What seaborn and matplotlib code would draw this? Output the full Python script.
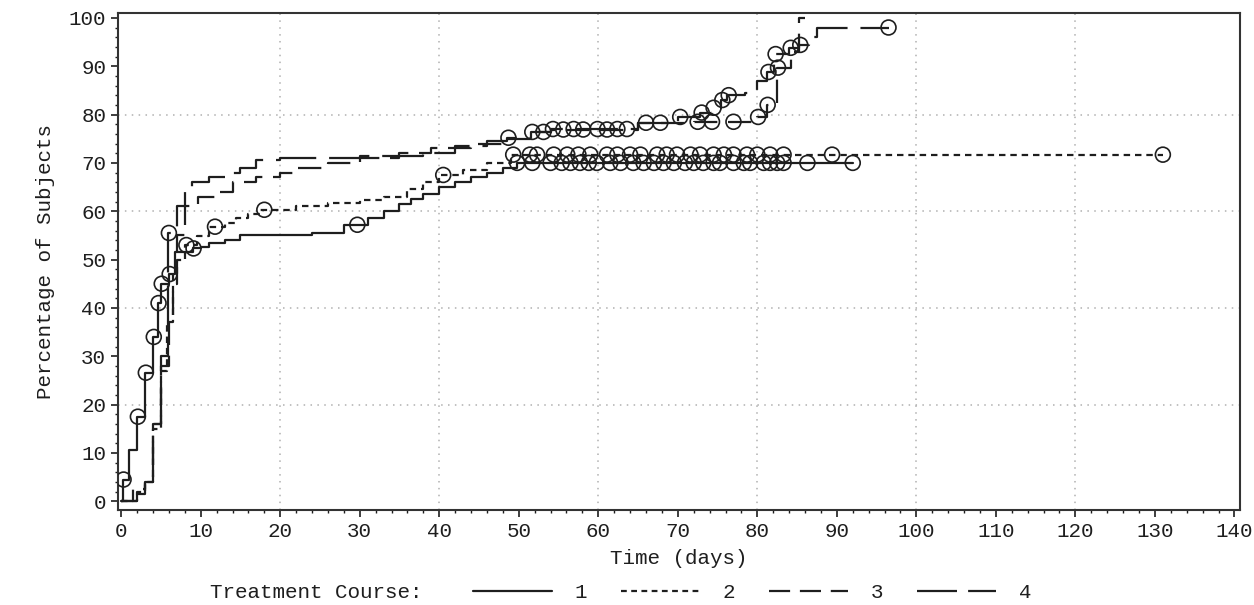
"""
Cumulative percentage of subjects over time, by treatment course.

Step curves with open circles marking censored observations.
"""

import numpy as np
import pandas as pd
import matplotlib
matplotlib.use("Agg")
import matplotlib.pyplot as plt
from matplotlib.lines import Line2D
from matplotlib.ticker import MultipleLocator
import seaborn as sns

# Course 1 (solid)
t1 = [0, 0.2, 1, 2, 3, 4, 4.6, 5, 6, 6.8, 9, 10, 11, 13, 15, 24, 28, 31, 33, 35,
      36.5, 38, 40, 42, 44, 46, 48, 49.8, 92]
y1 = [0, 4.5, 10.7, 17.5, 26.6, 34, 41, 45, 47, 51.6, 52.3, 52.7, 53.5, 54, 55,
      55.5, 57.2, 58.7, 60, 61.4, 62.5, 63.5, 65, 66, 67, 68, 69, 70, 70]
c1 = [0.3, 2.1, 3.1, 4.1, 4.7, 5.1, 6.1, 9.1, 29.7, 49.8, 51.7, 54, 55.4, 56.5,
      57.7, 58.8, 59.8, 61.5, 62.8, 64.4, 65.7, 67, 68.2, 69.5, 70.9, 72, 73.2,
      74.5, 75.3, 77, 78.3, 79.1, 80.8, 81.6, 82.5, 83.3, 86.3, 92]

# Course 2 (short dash)
t2 = [0, 2, 3, 4, 5, 5.8, 6.5, 7, 8, 9.5, 11, 13, 14.5, 16, 17.5, 22, 26, 30,
      33, 36, 38, 40, 43, 46, 49, 131]
y2 = [0, 2, 4, 15, 27, 37, 47, 50, 53, 54.8, 56.8, 57.5, 58.5, 59.5, 60.3, 61,
      61.6, 62.3, 63, 64.5, 66, 67.5, 68.5, 70, 71.7, 71.7]
c2 = [8.2, 11.8, 18, 40.5, 49.3, 51.4, 52.3, 54.4, 56.1, 57.5, 59, 61.1, 62.4,
      64, 65.3, 67.4, 68.6, 69.9, 71.6, 72.8, 74.5, 75.8, 77, 78.7, 80, 81.6,
      83.3, 89.4, 131]

# Course 3 (medium dash)
t3 = [0, 1.5, 3, 4, 5, 6, 6.5, 7, 8, 9.7, 12, 14, 17, 20, 22, 26, 30, 35, 39,
      44, 48, 52, 54, 65, 72, 80, 81.2, 82.5, 84.2, 85.3, 86]
y3 = [0, 2.5, 4, 16, 28, 38, 45, 55, 61, 63, 64, 66, 67, 68, 69, 70, 71, 72, 73,
      74, 75, 76.4, 76.9, 78.3, 78.5, 79.5, 82, 89.7, 93, 100, 100]
c3 = [53.1, 55.6, 58.1, 61.1, 67.8, 72.5, 74.3, 77, 80.1, 81.3, 82.6]

# Course 4 (long dash)
t4 = [0, 2, 3, 4, 5, 5.9, 7, 8, 8.9, 11, 13, 15, 17, 20, 30, 38, 42, 46, 48.5,
      51.5, 54, 65, 70, 72.8, 74.3, 75.4, 76.2, 78.5, 80, 81.2, 82.1, 84, 85.2,
      86.5, 87.5, 96.5]
y4 = [0, 1.5, 5, 16, 30, 55.5, 61, 64, 66, 67, 68, 69, 70.5, 71, 71.5, 72, 73.5,
      74.5, 75.2, 76.4, 77, 78.3, 79.5, 80.4, 81.4, 83, 84, 84.5, 87, 88.8, 92.5,
      93.8, 94.4, 96, 98, 98]
c4 = [6, 48.7, 51.7, 54.3, 56.9, 59.9, 62.4, 63.6, 66, 70.3, 73, 74.5, 75.6,
      76.4, 81.4, 82.3, 84.2, 85.4, 96.5]

courses = ["1", "2", "3", "4"]
x_ticks = list(range(0, 141, 10))
y_ticks = list(range(0, 101, 10))

INK = "#1e1e1e"
FONT = ["Liberation Mono", "DejaVu Sans Mono"]


def step_value(ts, ys, tc):
    """Value of a right-continuous step curve at time tc."""
    idx = np.searchsorted(np.asarray(ts), tc, side="right") - 1
    return np.asarray(ys)[np.clip(idx, 0, len(ys) - 1)]


curves = []
censors = []
for name, ts, ys, cs in zip(courses, [t1, t2, t3, t4], [y1, y2, y3, y4],
                            [c1, c2, c3, c4]):
    curves.append(pd.DataFrame({"time": ts, "pct": ys, "course": name}))
    censors.append(pd.DataFrame({"time": cs, "pct": step_value(ts, ys, cs),
                                 "course": name}))
curve_df = pd.concat(curves, ignore_index=True)
cens_df = pd.concat(censors, ignore_index=True)

sns.set_theme(style="white")
plt.rcParams["font.family"] = FONT
plt.rcParams["font.size"] = 15

dash_map = {"1": "", "2": (2.9, 2.2), "3": (10.5, 4.8), "4": (19, 5.8)}
legend_dash = {"1": "-", "2": (0, (2.6, 2.0)), "3": (0, (9.5, 4.4)),
               "4": (0, (18, 5.0))}

fig = plt.figure(figsize=(12.54, 6.05), dpi=100)
ax = fig.add_axes([118 / 1254, 1 - 510 / 605, (1240 - 118) / 1254, (510 - 13) / 605])

# dotted reference grid
for gx in range(20, 121, 20):
    ax.axvline(gx, color="#b0b0b0", lw=1.1, ls=(0, (1, 3.5)), zorder=0)
for gy in range(20, 81, 20):
    ax.axhline(gy, color="#b0b0b0", lw=1.1, ls=(0, (1, 3.5)), zorder=0)

sns.lineplot(data=curve_df, x="time", y="pct", style="course", dashes=dash_map,
             color=INK, linewidth=1.6, drawstyle="steps-post", estimator=None,
             sort=False, legend=False, ax=ax)
sns.scatterplot(data=cens_df, x="time", y="pct", marker="o", s=115,
                facecolors="none", edgecolor=INK, linewidth=1.2, legend=False,
                ax=ax, zorder=3)

ax.set_xlim(-0.4, 140.7)
ax.set_ylim(-1.8, 101)
ax.set_xticks(x_ticks)
ax.set_yticks(y_ticks)
ax.xaxis.set_minor_locator(MultipleLocator(2))
ax.yaxis.set_minor_locator(MultipleLocator(2))
ax.tick_params(which="major", direction="out", length=5, width=1.2, colors=INK,
               labelsize=15, bottom=True, left=True)
ax.tick_params(which="minor", direction="out", length=2.5, width=1,
               colors=INK, bottom=True, left=True)
for sp in ax.spines.values():
    sp.set_color("#333333")
    sp.set_linewidth(1.5)

ax.set_xlabel("Time (days)", fontsize=15, color=INK, labelpad=6)
ax.set_ylabel("Percentage of Subjects", fontsize=15, color=INK, labelpad=10)

# legend row below the axis title
fig.text(210 / 1254, 1 - 593 / 605, "Treatment Course:", fontsize=15,
         color=INK, va="center", ha="left")
handles = [Line2D([], [], color=INK, lw=1.6, linestyle=legend_dash[c])
           for c in courses]
fig.legend(handles, courses, ncol=4, frameon=False, fontsize=15,
           handlelength=3.8, handletextpad=1.1, columnspacing=1.6,
           loc="center", bbox_to_anchor=(752 / 1254, 1 - 593 / 605),
           labelcolor=INK)

fig.savefig("out.png", dpi=100)
